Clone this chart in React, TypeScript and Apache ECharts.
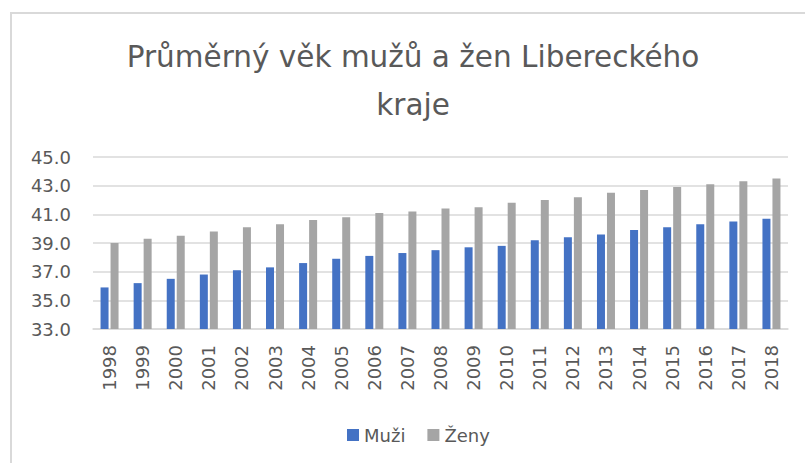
import React, { useEffect, useRef } from "react";
import * as echarts from "echarts";

const years = ["1998","1999","2000","2001","2002","2003","2004","2005","2006","2007","2008","2009","2010","2011","2012","2013","2014","2015","2016","2017","2018"];
const muzi = [35.9, 36.2, 36.5, 36.8, 37.1, 37.3, 37.6, 37.9, 38.1, 38.3, 38.5, 38.7, 38.8, 39.2, 39.4, 39.6, 39.9, 40.1, 40.3, 40.5, 40.7];
const zeny = [39.0, 39.3, 39.5, 39.8, 40.1, 40.3, 40.6, 40.8, 41.1, 41.2, 41.4, 41.5, 41.8, 42.0, 42.2, 42.5, 42.7, 42.9, 43.1, 43.3, 43.5];
const titleLines = ["Průměrný věk mužů a žen Libereckého", "kraje"];
const seriesNames = ["Muži", "Ženy"];

const FONT = "DejaVu Sans";
const TXT = "#595959";

export default function App() {
  const ref = useRef<HTMLDivElement>(null);
  useEffect(() => {
    document.body.style.margin = "0";
    const chart = echarts.init(ref.current!, null, { renderer: "svg" });
    chart.setOption({
      animation: false,
      backgroundColor: "#ffffff",
      graphic: [
        {
          type: "rect",
          shape: { x: 11, y: 13, width: 830, height: 480 },
          style: { fill: "none", stroke: "#d9d9d9", lineWidth: 2 },
          silent: true,
        },
        {
          type: "text",
          x: 413,
          y: 57,
          style: { text: titleLines[0], fontFamily: FONT, fontSize: 29.5, fill: TXT, align: "center", verticalAlign: "middle" },
        },
        {
          type: "text",
          x: 413,
          y: 105,
          style: { text: titleLines[1], fontFamily: FONT, fontSize: 29.5, fill: TXT, align: "center", verticalAlign: "middle" },
        },
      ],
      legend: {
        data: seriesNames,
        left: 342,
        top: 421,
        itemWidth: 12,
        itemHeight: 12,
        itemGap: 22,
        icon: "rect",
        textStyle: { fontFamily: FONT, fontSize: 18, color: TXT },
      },
      grid: { left: 93, right: 17, top: 157, bottom: 134, containLabel: false },
      xAxis: {
        type: "category",
        data: years,
        axisLine: { lineStyle: { color: "#d9d9d9", width: 1.5 } },
        axisTick: { show: false },
        axisLabel: { rotate: 90, margin: 16, fontFamily: FONT, fontSize: 18, color: TXT },
      },
      yAxis: {
        type: "value",
        min: 33,
        max: 45,
        interval: 2,
        axisLine: { show: false },
        axisTick: { show: false },
        splitLine: { lineStyle: { color: "#d9d9d9", width: 1.5 } },
        axisLabel: { margin: 22, fontFamily: FONT, fontSize: 18, color: TXT, formatter: (v: number) => v.toFixed(1) },
      },
      series: [
        { name: seriesNames[0], type: "bar", data: muzi, barWidth: 8, barGap: "25%", itemStyle: { color: "#4472C4" } },
        { name: seriesNames[1], type: "bar", data: zeny, barWidth: 8, barGap: "25%", itemStyle: { color: "#A5A5A5" } },
      ],
    });
    return () => chart.dispose();
  }, []);
  return <div ref={ref} style={{ width: 805, height: 463 }} />;
}
